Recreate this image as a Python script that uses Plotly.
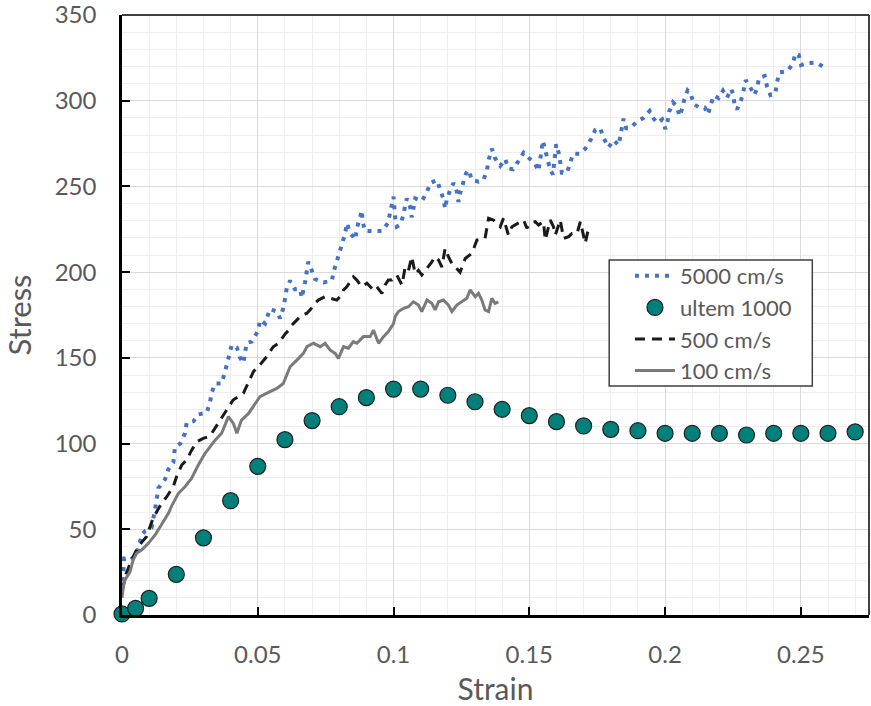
import plotly.graph_objects as go

# ---------------- data ----------------
strain_5000 = [0.0, 0.0003, 0.0008, 0.0017, 0.0029, 0.0054, 0.0073, 0.0085, 0.0109, 0.0122,
               0.0134, 0.0158, 0.0171, 0.0189, 0.0195, 0.0214, 0.0232, 0.0238, 0.0263, 0.0281,
               0.0312, 0.0324, 0.0331, 0.0343, 0.0367, 0.0386, 0.0404, 0.0423, 0.0435, 0.0447,
               0.0459, 0.0478, 0.0502, 0.0508, 0.0527, 0.0545, 0.0570, 0.0582, 0.0594, 0.0601,
               0.0607, 0.0619, 0.0637, 0.0656, 0.0662, 0.0674, 0.0681, 0.0686, 0.0699, 0.0711,
               0.0742, 0.0773, 0.0779, 0.0791, 0.0803, 0.0813, 0.0822, 0.0828, 0.0840, 0.0859,
               0.0865, 0.0877, 0.0883, 0.0887, 0.0895, 0.0914, 0.0932, 0.0957, 0.0979, 0.0987,
               0.0993, 0.1000, 0.1006, 0.1012, 0.1024, 0.1036, 0.1043, 0.1049, 0.1061, 0.1067,
               0.1080, 0.1104, 0.1123, 0.1135, 0.1160, 0.1172, 0.1184, 0.1190, 0.1196, 0.1209,
               0.1221, 0.1233, 0.1239, 0.1245, 0.1258, 0.1267, 0.1276, 0.1289, 0.1313, 0.1331,
               0.1344, 0.1350, 0.1362, 0.1374, 0.1393, 0.1411, 0.1423, 0.1440, 0.1460, 0.1479,
               0.1497, 0.1522, 0.1534, 0.1540, 0.1550, 0.1559, 0.1571, 0.1577, 0.1587, 0.1592,
               0.1599, 0.1608, 0.1614, 0.1620, 0.1639, 0.1651, 0.1661, 0.1685, 0.1706, 0.1728,
               0.1743, 0.1761, 0.1773, 0.1792, 0.1810, 0.1829, 0.1835, 0.1841, 0.1847, 0.1857,
               0.1872, 0.1896, 0.1921, 0.1943, 0.1958, 0.1972, 0.1989, 0.2001, 0.2009, 0.2015,
               0.2029, 0.2044, 0.2053, 0.2062, 0.2071, 0.2083, 0.2095, 0.2105, 0.2127, 0.2146,
               0.2158, 0.2169, 0.2179, 0.2197, 0.2213, 0.2228, 0.2244, 0.2252, 0.2256, 0.2265,
               0.2280, 0.2289, 0.2297, 0.2311, 0.2329, 0.2339, 0.2346, 0.2367, 0.2375, 0.2388,
               0.2406, 0.2412, 0.2421, 0.2451, 0.2471, 0.2480, 0.2492, 0.2501, 0.2520, 0.2557,
               0.2588]
stress_5000 = [14, 25, 33, 33, 32, 35, 47, 49, 51, 62,
               74, 79, 85, 89, 98, 100, 106, 112, 113, 117,
               118, 124, 130, 135, 135, 146, 157.5, 156, 150, 147,
               158.7, 159.5, 166, 172, 170, 178.5, 177, 173, 179, 185,
               191, 195, 190, 190, 185, 194, 200, 206, 201, 196,
               194, 195, 200, 206, 211.5, 217, 222.6, 228.5, 223, 219,
               225.7, 232, 236, 229, 224, 224, 224, 224, 228.5, 234,
               240, 244, 231.6, 226.5, 227.5, 233, 239, 243, 238, 232,
               243, 241.5, 246.6, 252, 253.7, 248, 242.5, 237, 242.5, 248,
               252, 247, 241, 246, 252, 257.6, 259.6, 253.7, 252.8, 253.7,
               259.6, 265.4, 272, 266.4, 262, 266, 260.5, 260, 264.8, 269.7,
               266.8, 262.9, 259, 265, 276.7, 271, 262, 259.6, 257, 265.8,
               274.6, 269.7, 264, 258, 258, 263.5, 269, 269, 272, 277.7,
               283, 284, 278.4, 272.8, 277, 274, 280, 286, 289.5, 284,
               284, 287.8, 290, 294, 289.5, 287, 289, 283.5, 287.8, 293.6,
               299, 296.5, 291, 295, 300.8, 306, 304, 298, 296, 296,
               292, 298, 303, 301.5, 305.8, 301.8, 306.8, 302.8, 297, 295,
               300.4, 306, 312, 308.6, 303.3, 307.5, 313.3, 314.4, 308.6, 303.3,
               304, 310.7, 316.5, 317.3, 321.8, 327.6, 326.7, 320.8, 321.8, 322.2,
               319.4]

strain_ultem = [0, 0.005, 0.01, 0.02, 0.03, 0.04, 0.05, 0.06, 0.07, 0.08, 0.09, 0.10,
                0.11, 0.12, 0.13, 0.14, 0.15, 0.16, 0.17, 0.18, 0.19, 0.20, 0.21, 0.22,
                0.23, 0.24, 0.25, 0.26, 0.27]
stress_ultem = [0.6, 3.9, 9.7, 23.7, 45, 66.7, 86.7, 102.3, 113.4, 121.5, 126.8, 131.8,
                131.8, 128.2, 124.4, 120, 116.3, 112.8, 110.3, 108.3, 107.5, 106, 106, 106,
                105, 106, 106, 106, 106.8]

strain_500 = [0.0, 0.0015, 0.0035, 0.0060, 0.0090, 0.0115, 0.0145, 0.0165, 0.0189, 0.0201,
              0.0220, 0.0238, 0.0256, 0.0275, 0.0299, 0.0324, 0.0354, 0.0385, 0.0409, 0.0447,
              0.0465, 0.0484, 0.0508, 0.0533, 0.0557, 0.0576, 0.0601, 0.0613, 0.0625, 0.0650,
              0.0662, 0.0681, 0.0693, 0.0711, 0.0723, 0.0748, 0.0791, 0.0803, 0.0816, 0.0828,
              0.0852, 0.0865, 0.0883, 0.0902, 0.0914, 0.0926, 0.0938, 0.0957, 0.0969, 0.0981,
              0.0994, 0.1012, 0.1031, 0.1043, 0.1055, 0.1067, 0.1080, 0.1092, 0.1104, 0.1117,
              0.1129, 0.1141, 0.1153, 0.1166, 0.1178, 0.1190, 0.1202, 0.1215, 0.1245, 0.1264,
              0.1289, 0.1307, 0.1337, 0.1350, 0.1368, 0.1381, 0.1393, 0.1405, 0.1423, 0.1436,
              0.1448, 0.1479, 0.1491, 0.1503, 0.1522, 0.1534, 0.1552, 0.1559, 0.1577, 0.1589,
              0.1596, 0.1614, 0.1626, 0.1645, 0.1657, 0.1676, 0.1688, 0.1706, 0.1718]
stress_500 = [14, 24, 32, 40, 45.7, 56.6, 65, 69, 75, 80.7,
              87.5, 90.4, 96, 101, 103, 104.4, 111.8, 119.6, 125.4, 129.3,
              135, 142, 146, 150.7, 156.5, 158.5, 164, 166, 169, 173,
              175, 176, 178, 181.8, 183.7, 185.7, 183.7, 185.7, 189.6, 191.5,
              197.3, 195.4, 191.5, 193.5, 191.5, 189.6, 191.5, 187.6, 192.5, 195.4,
              195.4, 198.3, 192.5, 203, 201, 209, 199, 201, 198.3, 201,
              203, 206, 209, 207, 203, 213.8, 209, 205, 200, 208,
              211, 218.7, 219.7, 231.4, 230.4, 228.5, 226.5, 231.4, 221.7, 226.5,
              227.5, 230.4, 225.6, 228.5, 229.4, 227.5, 229.4, 218.7, 230.4, 226.5,
              221.7, 230.4, 219.7, 220.7, 222.6, 222.6, 229.4, 216.8, 225.6]

strain_100 = [0.0, 0.0005, 0.0011, 0.0029, 0.0041, 0.0054, 0.0073, 0.0097, 0.0122, 0.0147,
              0.0171, 0.0184, 0.0208, 0.0232, 0.0256, 0.0281, 0.0306, 0.0343, 0.0367, 0.0392,
              0.0410, 0.0423, 0.0440, 0.0466, 0.0484, 0.0508, 0.0545, 0.0570, 0.0594, 0.0619,
              0.0644, 0.0668, 0.0681, 0.0705, 0.0730, 0.0748, 0.0766, 0.0785, 0.0797, 0.0816,
              0.0834, 0.0852, 0.0865, 0.0889, 0.0914, 0.0926, 0.0945, 0.0963, 0.0981, 0.1000,
              0.1006, 0.1018, 0.1037, 0.1055, 0.1073, 0.1092, 0.1104, 0.1123, 0.1141, 0.1153,
              0.1166, 0.1184, 0.1202, 0.1215, 0.1233, 0.1251, 0.1270, 0.1282, 0.1301, 0.1313,
              0.1325, 0.1337, 0.1350, 0.1362, 0.1374, 0.1386]
stress_100 = [10, 16.5, 20.4, 25, 32, 36, 38, 41.8, 46.7, 53.5,
              59.3, 64, 71, 74.8, 79.7, 87.5, 94.3, 102, 106, 115.7,
              111.8, 106, 113.7, 117.6, 121.5, 127.3, 130.3, 132.2, 135, 144.8,
              148.7, 152.6, 156.5, 158.5, 156.5, 158.5, 154.6, 152.6, 149.7, 156.5,
              155.6, 159.5, 158.5, 162.4, 162.4, 166.2, 158.5, 162.4, 165.3, 170,
              174, 177, 178.9, 179.8, 182.7, 180.8, 177, 183.7, 181.8, 178,
              182.7, 183.7, 180.8, 177, 180.8, 182.7, 184.7, 189.6, 185.7, 187.6,
              183.7, 178, 177, 184.7, 181.8, 182.7]

x_tickvals = [0, 0.05, 0.1, 0.15, 0.2, 0.25]
x_ticktext = ["0", "0.05", "0.1", "0.15", "0.2", "0.25"]
y_tickvals = [0, 50, 100, 150, 200, 250, 300, 350]

# ---------------- figure ----------------
TXT = "#595959"
FONT = "Lato"

fig = go.Figure()
fig.add_trace(go.Scatter(x=strain_5000, y=stress_5000, mode="lines", name="5000 cm/s",
                         line=dict(color="#4472C4", width=4, dash="4px,6px"), legendrank=1))
fig.add_trace(go.Scatter(x=strain_500, y=stress_500, mode="lines", name="500 cm/s",
                         line=dict(color="#1a1a1a", width=3, dash="10px,7px"), legendrank=3))
fig.add_trace(go.Scatter(x=strain_100, y=stress_100, mode="lines", name="100 cm/s",
                         line=dict(color="#7a7a7a", width=3), legendrank=4))
fig.add_trace(go.Scatter(x=strain_ultem, y=stress_ultem, mode="markers", name="ultem 1000",
                         marker=dict(color="#00807A", size=16, line=dict(color="#1f1f1f", width=1.2)),
                         cliponaxis=False, legendrank=2))

fig.update_layout(
    width=871, height=706,
    margin=dict(l=122, r=2, t=15, b=91),
    plot_bgcolor="white", paper_bgcolor="white",
    font=dict(family=FONT, color=TXT),
    showlegend=True,
    legend=dict(x=0.680, y=0.600, xanchor="left", yanchor="top",
                bgcolor="rgba(0,0,0,0)", borderwidth=0,
                font=dict(family=FONT, size=22, color=TXT),
                itemwidth=40, tracegroupgap=0),
    xaxis=dict(range=[0, 0.2751], tickvals=x_tickvals, ticktext=x_ticktext, automargin=False,
               showline=True, linecolor="black", linewidth=2.5,
               ticks="inside", ticklen=8, tickwidth=2, tickcolor="black",
               showgrid=True, gridcolor="#d9d9d9", gridwidth=1,
               minor=dict(dtick=0.01, tick0=0, showgrid=True, gridcolor="#eeeeee", gridwidth=1),
               zeroline=False, tickfont=dict(size=24, color=TXT), ticklabelstandoff=16,
               ticklabeloverflow="allow",
               title=dict(text="Strain", font=dict(size=30, color=TXT), standoff=14)),
    yaxis=dict(range=[0, 350], tickvals=y_tickvals, automargin=False,
               showline=True, linecolor="black", linewidth=2.5,
               ticks="inside", ticklen=8, tickwidth=2, tickcolor="black",
               showgrid=True, gridcolor="#d9d9d9", gridwidth=1,
               minor=dict(dtick=10, tick0=0, showgrid=True, gridcolor="#eeeeee", gridwidth=1),
               zeroline=False, tickfont=dict(size=24, color=TXT), ticklabelstandoff=18,
               ticklabeloverflow="allow",
               title=dict(text="Stress", font=dict(size=31, color=TXT), standoff=15)),
)
# legend frame (white box behind legend text)
fig.add_shape(type="rect", xref="paper", yref="paper", x0=0.6522, x1=0.9241, y0=0.3817, y1=0.5917,
              fillcolor="white", line=dict(color="#404040", width=1.5), layer="above")
# top and right frame
fig.add_shape(type="line", xref="paper", yref="paper", x0=0, x1=1, y0=1, y1=1,
              line=dict(color="#404040", width=2))
fig.add_shape(type="line", xref="paper", yref="paper", x0=1, x1=1, y0=0, y1=1,
              line=dict(color="#404040", width=2))

fig.write_html("out.html", config={"displayModeBar": False},
               post_script="document.body.style.margin='0';document.body.style.overflow='hidden';")
